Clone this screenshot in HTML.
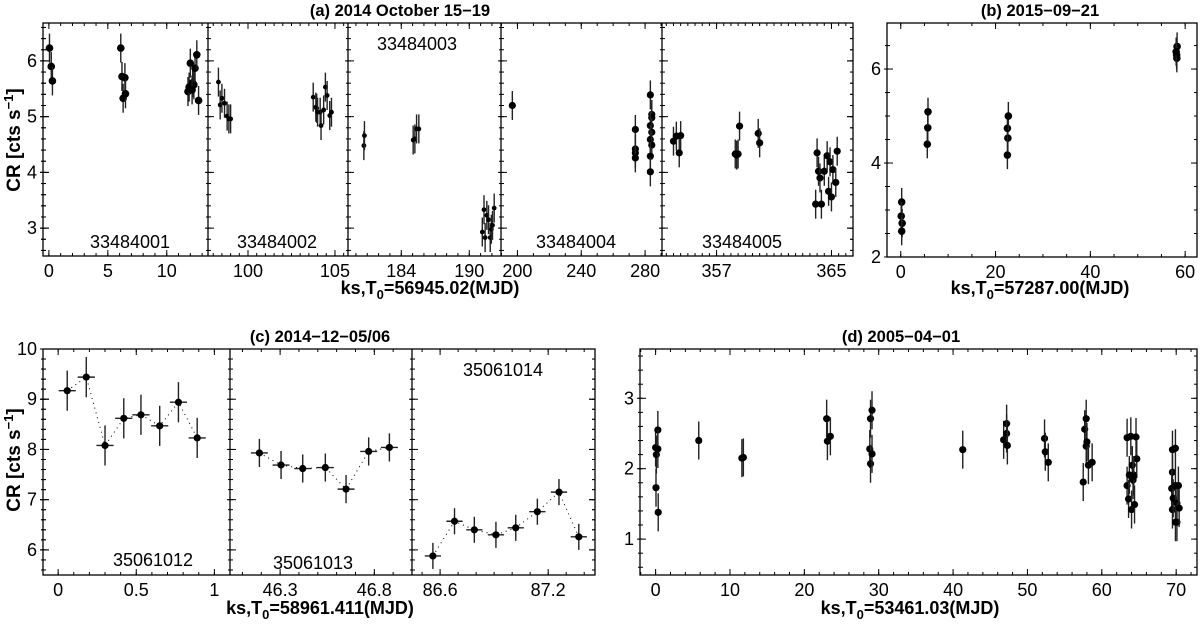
<!DOCTYPE html>
<html><head><meta charset="utf-8"><style>
html,body{margin:0;padding:0;background:#fff}
svg{display:block;font-family:"Liberation Sans",Arial,sans-serif}
</style></head><body>
<svg id="fig" width="1200" height="633" viewBox="0 0 1200 633" xmlns="http://www.w3.org/2000/svg"></svg>
<script>
// ---- Panel (a) data ----
const a1X=[0.05,0.2,0.3,6.1,6.2,6.3,6.45,6.5,11.8,11.9,12.0,12.2,12.3,12.4,12.55,12.7,12.15];
const a1Y=[6.23,5.90,5.64,6.23,5.72,5.33,5.70,5.41,5.45,5.53,5.96,5.61,5.57,5.87,6.11,5.29,5.48];
const a2X=[98.3,98.4,98.5,98.65,98.8,98.9,99.0,103.75,103.9,103.95,104.0,104.15,104.2,104.35,104.45,104.55,104.7,104.8];
const a2Y=[5.62,5.21,5.33,5.24,5.01,4.96,4.96,5.35,5.17,5.15,5.08,5.08,4.84,5.12,5.53,5.38,5.02,5.08];
const a3X=[180.7,180.75,185.05,185.2,185.35,185.55,191.15,191.3,191.4,191.55,191.7,191.85,191.95,192.05,192.2];
const a3Y=[4.48,4.66,4.58,4.60,4.78,4.78,2.93,3.33,2.83,3.23,3.15,2.83,2.98,3.05,3.36];
const a4X=[196.8,273.9,273.9,273.9,273.9,283.3,284.2,284.2,283.3,284.2,283.3,284.2,283.3,283.3];
const a4Y=[5.20,4.77,4.42,4.35,4.26,5.39,5.04,4.98,4.84,4.72,4.59,4.49,4.29,4.01];
const a5X=[354.0,354.2,354.4,354.5,358.3,358.4,358.5,358.6,359.9,360.0,363.9,364.0,364.1,364.2,364.3,364.5,364.7,364.8,364.9,365.0,365.1,365.3,365.4];
const a5Y=[4.56,4.65,4.35,4.66,4.33,4.31,4.33,4.83,4.70,4.53,3.43,4.35,4.02,3.90,3.43,4.02,4.30,3.66,4.19,3.56,4.05,3.82,4.38];
// ---- Panel (b) data ----
const bX=[0.2,0.1,0.3,0.2,5.6,5.7,5.75,22.5,22.6,22.5,22.7,58.2,58.3,58.25,58.1];
const bY=[3.17,2.87,2.72,2.55,4.40,4.75,5.09,4.17,4.53,4.74,5.00,6.30,6.48,6.23,6.37];
// ---- Panel (c) data ----
const c1X=[0.058,0.18,0.30,0.42,0.53,0.65,0.77,0.89];
const c1Y=[9.17,9.44,8.08,8.62,8.69,8.47,8.94,8.23];
const c2X=[46.19,46.305,46.42,46.54,46.65,46.77,46.88];
const c2Y=[7.93,7.69,7.62,7.64,7.21,7.96,8.04];
const c3X=[86.56,86.68,86.79,86.91,87.02,87.14,87.26,87.37];
const c3Y=[5.88,6.57,6.40,6.30,6.44,6.76,7.15,6.26];
// ---- Panel (d) data ----
const dX=[0.0,0.1,0.05,0.3,0.3,0.35,5.8,11.6,11.8,23.0,23.1,23.5,28.9,28.8,28.9,29.1,29.1,41.3,46.8,47.2,47.2,47.3,52.3,52.4,52.8,57.5,57.7,57.9,57.9,58.0,58.2,58.7,63.4,63.4,63.6,63.7,63.9,64.0,64.1,64.2,64.3,64.4,64.6,64.7,64.3,69.5,69.5,69.4,69.5,69.6,69.9,69.9,69.9,70.1,70.1,70.3,70.4];
const dY=[2.30,2.20,1.73,2.55,2.28,1.38,2.40,2.15,2.16,2.71,2.39,2.46,2.71,2.28,2.07,2.21,2.83,2.27,2.41,2.64,2.50,2.33,2.43,2.24,2.09,1.81,2.56,2.71,2.32,2.38,2.05,2.09,2.44,1.76,1.57,1.91,2.46,1.42,2.05,1.84,1.91,1.49,2.45,2.14,1.89,2.27,1.95,1.72,1.42,1.58,2.29,1.76,1.24,1.51,1.24,1.76,1.44];
// tick labels
const aTicks=[[0,5,10],[100,105],[184,190],[200,240,280],[357,365]];
const bXTicks=[0,20,40,60], bYTicks=[2,4,6];
const cTicks=[[0,0.5,1],[46.3,46.8],[86.6,87.2]];
const dXTicks=[0,10,20,30,40,50,60,70], dYTicks=[1,2,3];
const aYTicks=[3,4,5,6], cYTicks=[6,7,8,9,10];

const NS="http://www.w3.org/2000/svg";
const svg=document.getElementById('fig');
function mk(tag,attrs,parent){const e=document.createElementNS(NS,tag);for(const k in attrs)e.setAttribute(k,attrs[k]);(parent||svg).appendChild(e);return e;}
function txt(s,x,y,size,weight,anchor,parent){const t=mk('text',{x:x,y:y,'font-size':size,'font-weight':weight||'normal','text-anchor':anchor||'middle',fill:'#000'},parent);t.textContent=s;return t;}
function lin(a,b,ymin,ymax){return v=>a+(v-ymin)/(ymax-ymin)*(b-a);}

function sub(g,x0,x1,y0,y1,xr,yr,xt,xminor,opts){
  const sx=lin(x0,x1,xr[0],xr[1]), sy=lin(y1,y0,yr[0],yr[1]);
  for(let v=Math.ceil(xr[0]/xminor)*xminor;v<=xr[1];v+=xminor){const x=sx(v);
    const t1=mk('line',{x1:x,y1:y1,x2:x,y2:y1-3,stroke:'#000','stroke-width':1},g);
    
    
    mk('line',{x1:x,y1:y0,x2:x,y2:y0+3,stroke:'#000','stroke-width':1},g);}
  xt.forEach(v=>{const x=sx(v);
    mk('line',{x1:x,y1:y1,x2:x,y2:y1-6,stroke:'#000','stroke-width':1},g);
    mk('line',{x1:x,y1:y0,x2:x,y2:y0+6,stroke:'#000','stroke-width':1},g);
    const t=txt(String(v),x,y1+opts.lab,18,'normal','middle',g);
    
    });
  return {sx,sy};
}
function yaxis(g,xl,xr,y0,y1,yr,ticks,minor,labels){
  const sy=lin(y1,y0,yr[0],yr[1]);
  for(let v=Math.ceil(yr[0]/minor-1e-9)*minor;v<=yr[1]+1e-9;v+=minor){const y=sy(v);
    xl.forEach(x=>mk('line',{x1:x-2,y1:y,x2:x+3,y2:y,stroke:'#000','stroke-width':1},g));
    mk('line',{x1:xr,y1:y,x2:xr-3,y2:y,stroke:'#000','stroke-width':1},g);}
  ticks.forEach(v=>{const y=sy(v);
    xl.forEach(x=>mk('line',{x1:x-3,y1:y,x2:x+6,y2:y,stroke:'#000','stroke-width':1},g));
    mk('line',{x1:xr,y1:y,x2:xr-6,y2:y,stroke:'#000','stroke-width':1},g);
    if(labels){const t=txt(String(v),xl[0]-6,y+6,18,'normal','end',g);
    
    }});
}
function points(g,X,Y,s,yerr,r,xerr,dotted,name){
  if(dotted){let p=X.map((v,i)=>s.sx(v)+','+s.sy(Y[i])).join(' ');
    const pl=mk('polyline',{points:p,fill:'none',stroke:'#000','stroke-width':1,'stroke-dasharray':'1,4'},g);
    
    }
  X.forEach((v,i)=>{const x=s.sx(v),y=s.sy(Y[i]);
    const e=mk('line',{x1:x,y1:s.sy(Y[i]+yerr),x2:x,y2:s.sy(Y[i]-yerr),stroke:'#222','stroke-width':1.4},g);
    
    
    if(xerr){mk('line',{x1:s.sx(v-xerr),y1:y,x2:s.sx(v+xerr),y2:y,stroke:'#222','stroke-width':1.4},g);}
    const c=mk('circle',{cx:x,cy:y,r:r,fill:'#000'},g);
    
    });
}
function box(g,x0,x1,y0,y1){const b=mk('rect',{x:x0,y:y0,width:x1-x0,height:y1-y0,fill:'none',stroke:'#000','stroke-width':1.3},g);
  
  }
function ylabel(g,x,y){const t=mk('text',{x:0,y:0,transform:`translate(${x},${y}) rotate(-90)`,'font-size':19,'font-weight':'bold','text-anchor':'middle'},g);
  t.innerHTML='CR [cts s<tspan dy="-7" font-size="13">−1</tspan><tspan dy="7">]</tspan>';
  
  }
function xlabel(g,x,y,s){const t=mk('text',{x:x,y:y,'font-size':18,'font-weight':'bold','text-anchor':'middle'},g);
  t.innerHTML='ks,T<tspan dy="5" font-size="13">0</tspan><tspan dy="-5">='+s+'(MJD)</tspan>';
  
  }
function title(g,s,x,y){const t=txt(s,x,y,16.5,'bold','middle',g);
  
  }
function obs(g,s,x,y){const t=txt(s,x,y,18,'normal','middle',g);
  
  }

// ===== Panel (a) =====
const gA=mk('g',{});


{const y0=23,y1=256,yr=[2.5,6.68];
 const divs=[43,208,348,501,662,853];
 const xrs=[[-0.5,13.5],[97.7,105.75],[179.3,192.8],[189.7,290.6],[353.2,366.5]];
 const minors=[1,0.5,1,10,0.5];
 const data=[[a1X,a1Y,3.8],[a2X,a2Y,2.4],[a3X,a3Y,2.4],[a4X,a4Y,3.6],[a5X,a5Y,3.6]];
 for(let i=0;i<5;i++){const s=sub(gA,divs[i],divs[i+1],y0,y1,xrs[i],yr,aTicks[i],minors[i],{lab:21});
   points(gA,data[i][0],data[i][1],s,0.26,data[i][2],0,false,'a'+(i+1));}
 yaxis(gA,divs.slice(0,5),853,y0,y1,yr,aYTicks,0.2,false);
 yaxis(gA,[43],853,y0,y1,yr,aYTicks,0.2,true);
 box(gA,43,853,y0,y1);
 for(let i=1;i<5;i++){const l=mk('line',{x1:divs[i],y1:y0,x2:divs[i],y2:y1,stroke:'#000','stroke-width':1.3},gA);
   
   }
 title(gA,'(a) 2014 October 15−19',400,16);
 ylabel(gA,20,140); xlabel(gA,430,294,'56945.02');
 obs(gA,'33484001',130,248); obs(gA,'33484002',277,248); obs(gA,'33484003',417,50);
 obs(gA,'33484004',576,248); obs(gA,'33484005',742,248);
}
// ===== Panel (b) =====
const gB=mk('g',{});


{const x0=887,x1=1197,y0=23,y1=257,xr=[-2.9,62.5],yr=[2,6.98];
 const s=sub(gB,x0,x1,y0,y1,xr,yr,bXTicks,5,{lab:21});
 yaxis(gB,[x0],x1,y0,y1,yr,bYTicks,0.5,true);
 points(gB,bX,bY,s,0.3,3.8,0,false,'b');
 box(gB,x0,x1,y0,y1);
 title(gB,'(b) 2015−09−21',1040,16); xlabel(gB,1040,294,'57287.00');
}
// ===== Panel (c) =====
const gC=mk('g',{});


{const y0=349,y1=575,yr=[5.5,10];
 const divs=[43,230,412,595];
 const xrs=[[-0.097,1.1],[46.034,47.0],[86.444,87.46]];
 const minors=[0.1,0.1,0.1];
 const data=[[c1X,c1Y,0.40],[c2X,c2Y,0.28],[c3X,c3Y,0.26]];
 for(let i=0;i<3;i++){const s=sub(gC,divs[i],divs[i+1],y0,y1,xrs[i],yr,cTicks[i],minors[i],{lab:21});
   points(gC,data[i][0],data[i][1],s,data[i][2],3.6,i===0?0.055:0.045,true,'c'+(i+1));}
 yaxis(gC,divs.slice(0,3),595,y0,y1,yr,cYTicks,0.2,false);
 yaxis(gC,[43],595,y0,y1,yr,cYTicks,0.2,true);
 box(gC,43,595,y0,y1);
 for(let i=1;i<3;i++){const l=mk('line',{x1:divs[i],y1:y0,x2:divs[i],y2:y1,stroke:'#000','stroke-width':1.3},gC);
   
   }
 title(gC,'(c) 2014−12−05/06',320,342);
 ylabel(gC,20,460); xlabel(gC,320,614,'58961.411');
 obs(gC,'35061012',153,566); obs(gC,'35061013',313,569); obs(gC,'35061014',503,376);
}
// ===== Panel (d) =====
const gD=mk('g',{});


{const x0=640,x1=1197,y0=349,y1=575,xr=[-2.1,72.8],yr=[0.49,3.7];
 const s=sub(gD,x0,x1,y0,y1,xr,yr,dXTicks,2,{lab:21});
 yaxis(gD,[x0],x1,y0,y1,yr,dYTicks,0.2,true);
 points(gD,dX,dY,s,0.27,3.6,0,false,'d');
 box(gD,x0,x1,y0,y1);
 title(gD,'(d) 2005−04−01',901,342); xlabel(gD,910,614,'53461.03');
}
</script>
</body></html>
